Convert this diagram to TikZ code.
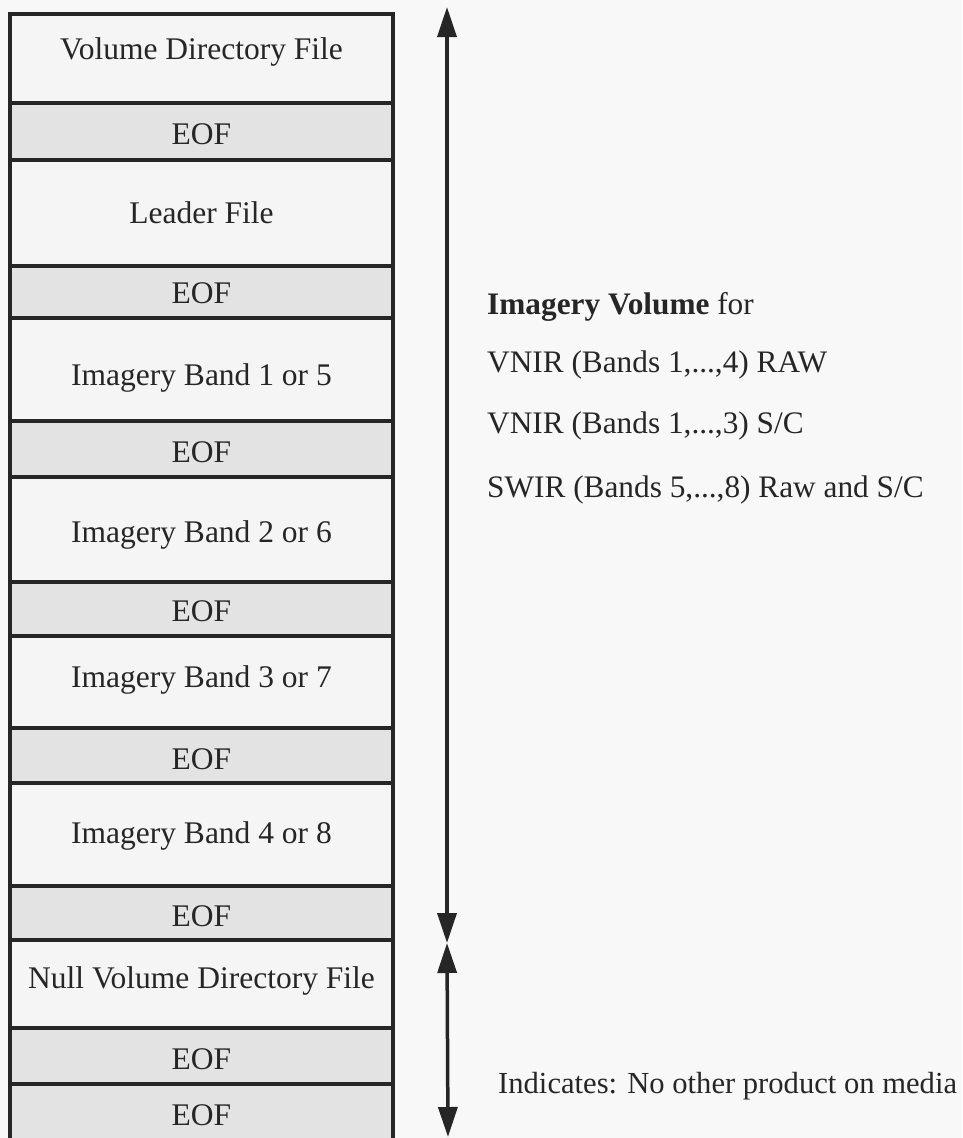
\documentclass[tikz,border=0pt]{standalone}
\usepackage{fontspec}
\setmainfont{Liberation Serif}
\usetikzlibrary{arrows.meta}
\definecolor{bg}{HTML}{F8F8F8}
\definecolor{wfill}{HTML}{F5F5F5}
\definecolor{gfill}{HTML}{E3E3E3}
\definecolor{ink}{HTML}{262626}
\tikzset{
  cell/.style={draw=ink, line width=3.5pt, rectangle, minimum width=383pt, inner sep=0pt,
    text height=21pt, text depth=0pt,
    font=\fontsize{31.5}{36}\selectfont, text=ink},
  wbox/.style={cell, fill=wfill},
  gbox/.style={cell, fill=gfill},
  lbl/.style={anchor=west, inner sep=0pt, text height=21pt, text depth=0pt,
    font=\fontsize{31.3}{36}\selectfont, text=ink},
  arr/.style={draw=ink, line width=3.5pt, {Triangle[length=30pt,width=19pt]}-{Triangle[length=30pt,width=19pt]}}
}
\begin{document}
\begin{tikzpicture}[x=1pt,y=-1pt]
\fill[bg] (0,0) rectangle (962,1138);
\useasboundingbox (0,0) rectangle (962,1138);
\node[wbox, minimum height=89pt] (vdf) at (201.5,58.5) {\raisebox{10pt}{Volume Directory File}};
\node[gbox, minimum height=57pt] (eof1) at (201.5,131.5) {\raisebox{-2.5pt}{EOF}};
\node[wbox, minimum height=106pt] (lead) at (201.5,213) {Leader File};
\node[gbox, minimum height=52pt] (eof2) at (201.5,292) {\raisebox{-1pt}{EOF}};
\node[wbox, minimum height=103pt] (b1) at (201.5,369.5) {\raisebox{-5.5pt}{Imagery Band 1 or 5}};
\node[gbox, minimum height=56pt] (eof3) at (201.5,449) {\raisebox{-2.5pt}{EOF}};
\node[wbox, minimum height=105pt] (b2) at (201.5,529.5) {\raisebox{-2.5pt}{Imagery Band 2 or 6}};
\node[gbox, minimum height=54pt] (eof4) at (201.5,609) {\raisebox{-2pt}{EOF}};
\node[wbox, minimum height=92pt] (b3) at (201.5,682) {\raisebox{5pt}{Imagery Band 3 or 7}};
\node[gbox, minimum height=55pt] (eof5) at (201.5,755.5) {\raisebox{-3pt}{EOF}};
\node[wbox, minimum height=103pt] (b4) at (201.5,834.5) {\raisebox{1.5pt}{Imagery Band 4 or 8}};
\node[gbox, minimum height=54pt] (eof6) at (201.5,913) {\raisebox{-3pt}{EOF}};
\node[wbox, minimum height=88pt] (nvd) at (201.5,984) {\raisebox{6.5pt}{Null Volume Directory File}};
\node[gbox, minimum height=56pt] (eof7) at (201.5,1056) {\raisebox{-3pt}{EOF}};
\node[gbox, minimum height=56pt] (eof8) at (201.5,1112) {\raisebox{-3pt}{EOF}};

\coordinate (atop) at (447,7);
\coordinate (amid) at (447,943);
\coordinate (abot) at (448,1137);
\draw[arr] (atop) -- (amid);
\draw[arr] (amid) -- (abot);

\node[lbl] (t1) at (487,304) {\textbf{Imagery Volume} for};
\node[lbl] (t2) at (487,362) {VNIR (Bands 1,...,4) RAW};
\node[lbl] (t3) at (487,423) {VNIR (Bands 1,...,3) S/C};
\node[lbl] (t4) at (487,487) {SWIR (Bands 5,...,8) Raw and S/C};
\node[lbl, font=\fontsize{30.6}{36}\selectfont] (t5) at (498,1083) {Indicates: No other product on media};
\end{tikzpicture}
\end{document}
